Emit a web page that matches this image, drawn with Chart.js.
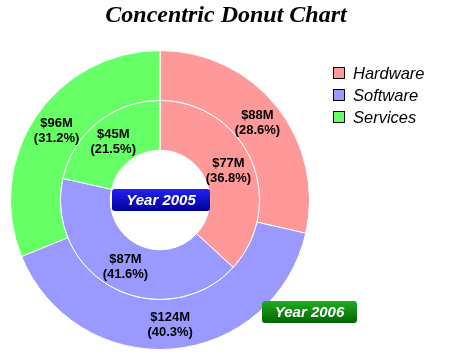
<!DOCTYPE html>
<html>
<head>
<meta charset="utf-8">
<script src="https://cdn.jsdelivr.net/npm/chart.js@4"></script>
<style>
  html, body { margin: 0; padding: 0; background: #fff; }
  #wrap { width: 450px; height: 360px; }
</style>
</head>
<body>
<div id="wrap"><canvas id="donut" width="450" height="360"></canvas></div>
<script>
// data
const categories = ["Hardware", "Software", "Services"];
const sales2006 = [88, 124, 96];
const sales2005 = [77, 87, 45];
const years = ["Year 2006", "Year 2005"];
const pieColors = ["#ff9999", "#9999ff", "#66ff66"];

// value labels inside each slice
const sliceLabels = {
  id: "sliceLabels",
  afterDatasetsDraw(chart) {
    const ctx = chart.ctx;
    ctx.save();
    ctx.font = "bold 13px Arial, 'Liberation Sans', sans-serif";
    ctx.fillStyle = "#000";
    ctx.textAlign = "center";
    ctx.textBaseline = "middle";
    chart.data.datasets.forEach((ds, di) => {
      const total = ds.data.reduce((a, b) => a + b, 0);
      chart.getDatasetMeta(di).data.forEach((arc, i) => {
        const p = arc.tooltipPosition();
        const pct = (ds.data[i] / total * 100).toFixed(1);
        ctx.fillText("$" + ds.data[i] + "M", p.x, p.y - 7);
        ctx.fillText("(" + pct + "%)", p.x, p.y + 8);
      });
    });
    ctx.restore();
  }
};

function roundBox(ctx, x, y, w, h, r, c1, c2, text) {
  const g = ctx.createLinearGradient(0, y, 0, y + h);
  g.addColorStop(0, c1);
  g.addColorStop(1, c2);
  ctx.beginPath();
  ctx.roundRect(x, y, w, h, r);
  ctx.fillStyle = g;
  ctx.fill();
  ctx.fillStyle = "#fff";
  ctx.font = "italic bold 15px Arial, 'Liberation Sans', sans-serif";
  ctx.textAlign = "center";
  ctx.textBaseline = "middle";
  ctx.fillText(text, x + w / 2, y + h / 2 + 1);
}

// title, legend and year tags
const extras = {
  id: "extras",
  afterDraw(chart) {
    const ctx = chart.ctx;
    ctx.save();
    ctx.fillStyle = "#000";
    ctx.font = "italic bold 24px 'Liberation Serif', 'DejaVu Serif', serif";
    ctx.textAlign = "center";
    ctx.textBaseline = "middle";
    ctx.fillText("Concentric Donut Chart", 226, 16);

    ctx.font = "italic 16.5px Arial, 'Liberation Sans', sans-serif";
    ctx.textAlign = "left";
    categories.forEach((c, i) => {
      const y = 67 + i * 22;
      ctx.fillStyle = pieColors[i];
      ctx.fillRect(333, y, 12, 12);
      ctx.strokeStyle = "#000";
      ctx.lineWidth = 1;
      ctx.strokeRect(333.5, y + 0.5, 11, 11);
      ctx.fillStyle = "#000";
      ctx.fillText(c, 353, y + 7);
    });

    roundBox(ctx, 112, 189, 98, 22, 3, "#2222ee", "#000099", years[1]);
    roundBox(ctx, 262, 301, 95, 22, 3, "#22aa22", "#006600", years[0]);
    ctx.restore();
  }
};

new Chart(document.getElementById("donut"), {
  type: "doughnut",
  plugins: [sliceLabels, extras],
  data: {
    labels: categories,
    datasets: [
      { label: years[0], data: sales2006, backgroundColor: pieColors, borderColor: "#fff", borderWidth: 1 },
      { label: years[1], data: sales2005, backgroundColor: pieColors, borderColor: "#fff", borderWidth: 1 }
    ]
  },
  options: {
    responsive: false,
    animation: false,
    cutout: "33.3%",
    layout: { padding: { left: 10, right: 140, top: 50, bottom: 10 } },
    plugins: {
      legend: { display: false },
      title: { display: false },
      tooltip: { enabled: false }
    }
  }
});
</script>
</body>
</html>
